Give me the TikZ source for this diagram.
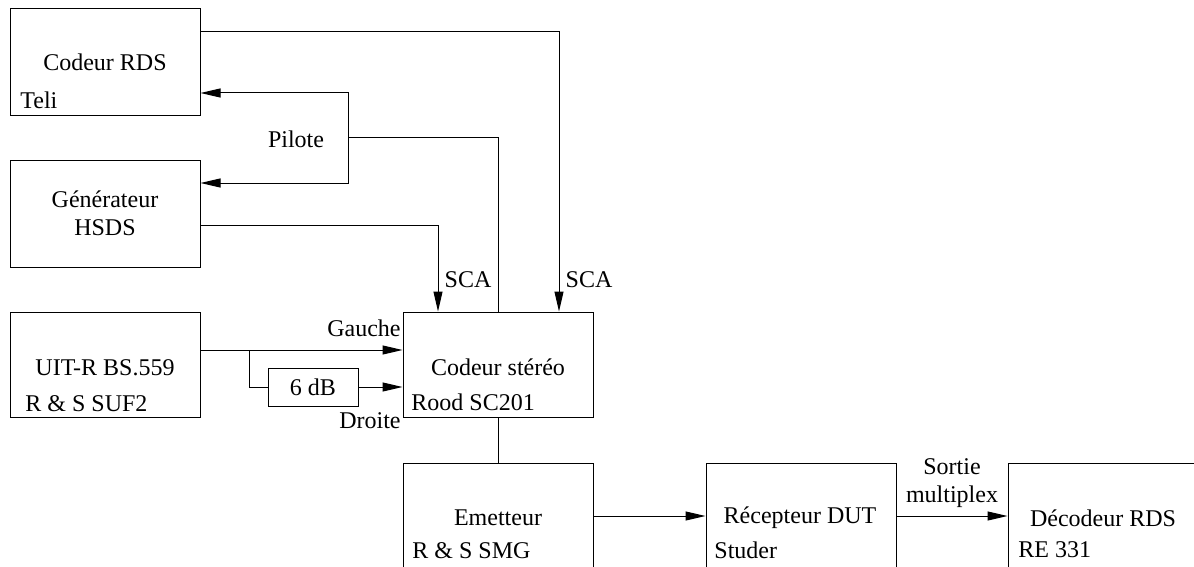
\documentclass[tikz,border=0pt]{standalone}
\usepackage{fontspec}
\setmainfont{Liberation Serif}
\usetikzlibrary{arrows.meta}
\begin{document}
\begin{tikzpicture}[x=0.5pt,y=-0.5pt,
  every node/.style={font=\fontsize{12}{14}\selectfont},
  box/.style={draw, line width=0.5pt, inner sep=0pt, minimum width=95pt},
  lbl/.style={inner sep=0pt},
  wire/.style={line width=0.5pt},
  arr/.style={wire, -{Triangle[length=10pt,width=4.5pt]}}]
\useasboundingbox (0,0) rectangle (1194,567);
\clip (0,0) rectangle (1194,567);
% boxes
\node[box, minimum height=53.5pt] (rds) at (105,62.5) {};
\node[box, minimum height=53pt] (gen) at (105,214) {};
\node[box, minimum height=52.5pt] (uit) at (105,364.5) {};
\node[box, minimum height=52.5pt] (ster) at (498,364.5) {};
\node[box, minimum width=45pt, minimum height=19pt] (db) at (313,387) {};
\node[box, minimum height=53pt] (emit) at (498,516) {};
\node[box, minimum height=53pt] (rec) at (801,516) {};
\node[box, minimum height=53pt] (dec) at (1103,516) {};
% texts
\node[lbl] (t1) at (105,62) {Codeur RDS};
\node[lbl, anchor=west] (t2) at (20,100) {Teli};
\node[lbl, align=center] (t3) at (105,213) {Générateur\\HSDS};
\node[lbl] (t4) at (105,368) {UIT-R BS.559};
\node[lbl, anchor=west] (t5) at (25,404) {R \& S SUF2};
\node[lbl] (t6) at (498,367) {Codeur stéréo};
\node[lbl, anchor=west] (t7) at (411,402) {Rood SC201};
\node[lbl] (t8) at (313,387) {6 dB};
\node[lbl] (t9) at (498,518) {Emetteur};
\node[lbl, anchor=west] (t10) at (412,551) {R \& S SMG};
\node[lbl] (t11) at (800,518) {Récepteur DUT};
\node[lbl, anchor=west] (t12) at (714,550) {Studer};
\node[lbl] (t13) at (1103,518) {Décodeur RDS};
\node[lbl, anchor=west] (t14) at (1018,550) {RE 331};
\node[lbl] (l1) at (296,139) {Pilote};
\node[lbl] (l2) at (468,280) {SCA};
\node[lbl] (l3) at (589,280) {SCA};
\node[lbl, anchor=east] (l4) at (401,328) {Gauche};
\node[lbl, anchor=east] (l5) at (401,421) {Droite};
\node[lbl, align=center] (l6) at (952,483) {Sortie\\multiplex};
% helper coordinates
\coordinate (pA) at (559,32);
\coordinate (pB) at (348,93);
\coordinate (pC) at (348,183);
\coordinate (pP) at (348,138);
\coordinate (pD) at (438,225);
\coordinate (pE) at (249,350);
% connectors
\draw[arr] (rds.east |- pA) -| (ster.north -| pA);
\draw[arr] (pP) |- (rds.east |- pB);
\draw[arr] (pP) |- (gen.east |- pC);
\draw[wire] (ster.north) |- (pP);
\draw[arr] (gen.east |- pD) -| (ster.north -| pD);
\draw[arr] (uit.east |- pE) -- (ster.west |- pE);
\draw[wire] (pE) |- (db.west);
\draw[arr] (db.east) -- (ster.west |- db.east);
\draw[wire] (ster.south) -- (emit.north);
\draw[arr] (emit.east) -- (rec.west);
\draw[arr] (rec.east) -- (dec.west);
\end{tikzpicture}
\end{document}
